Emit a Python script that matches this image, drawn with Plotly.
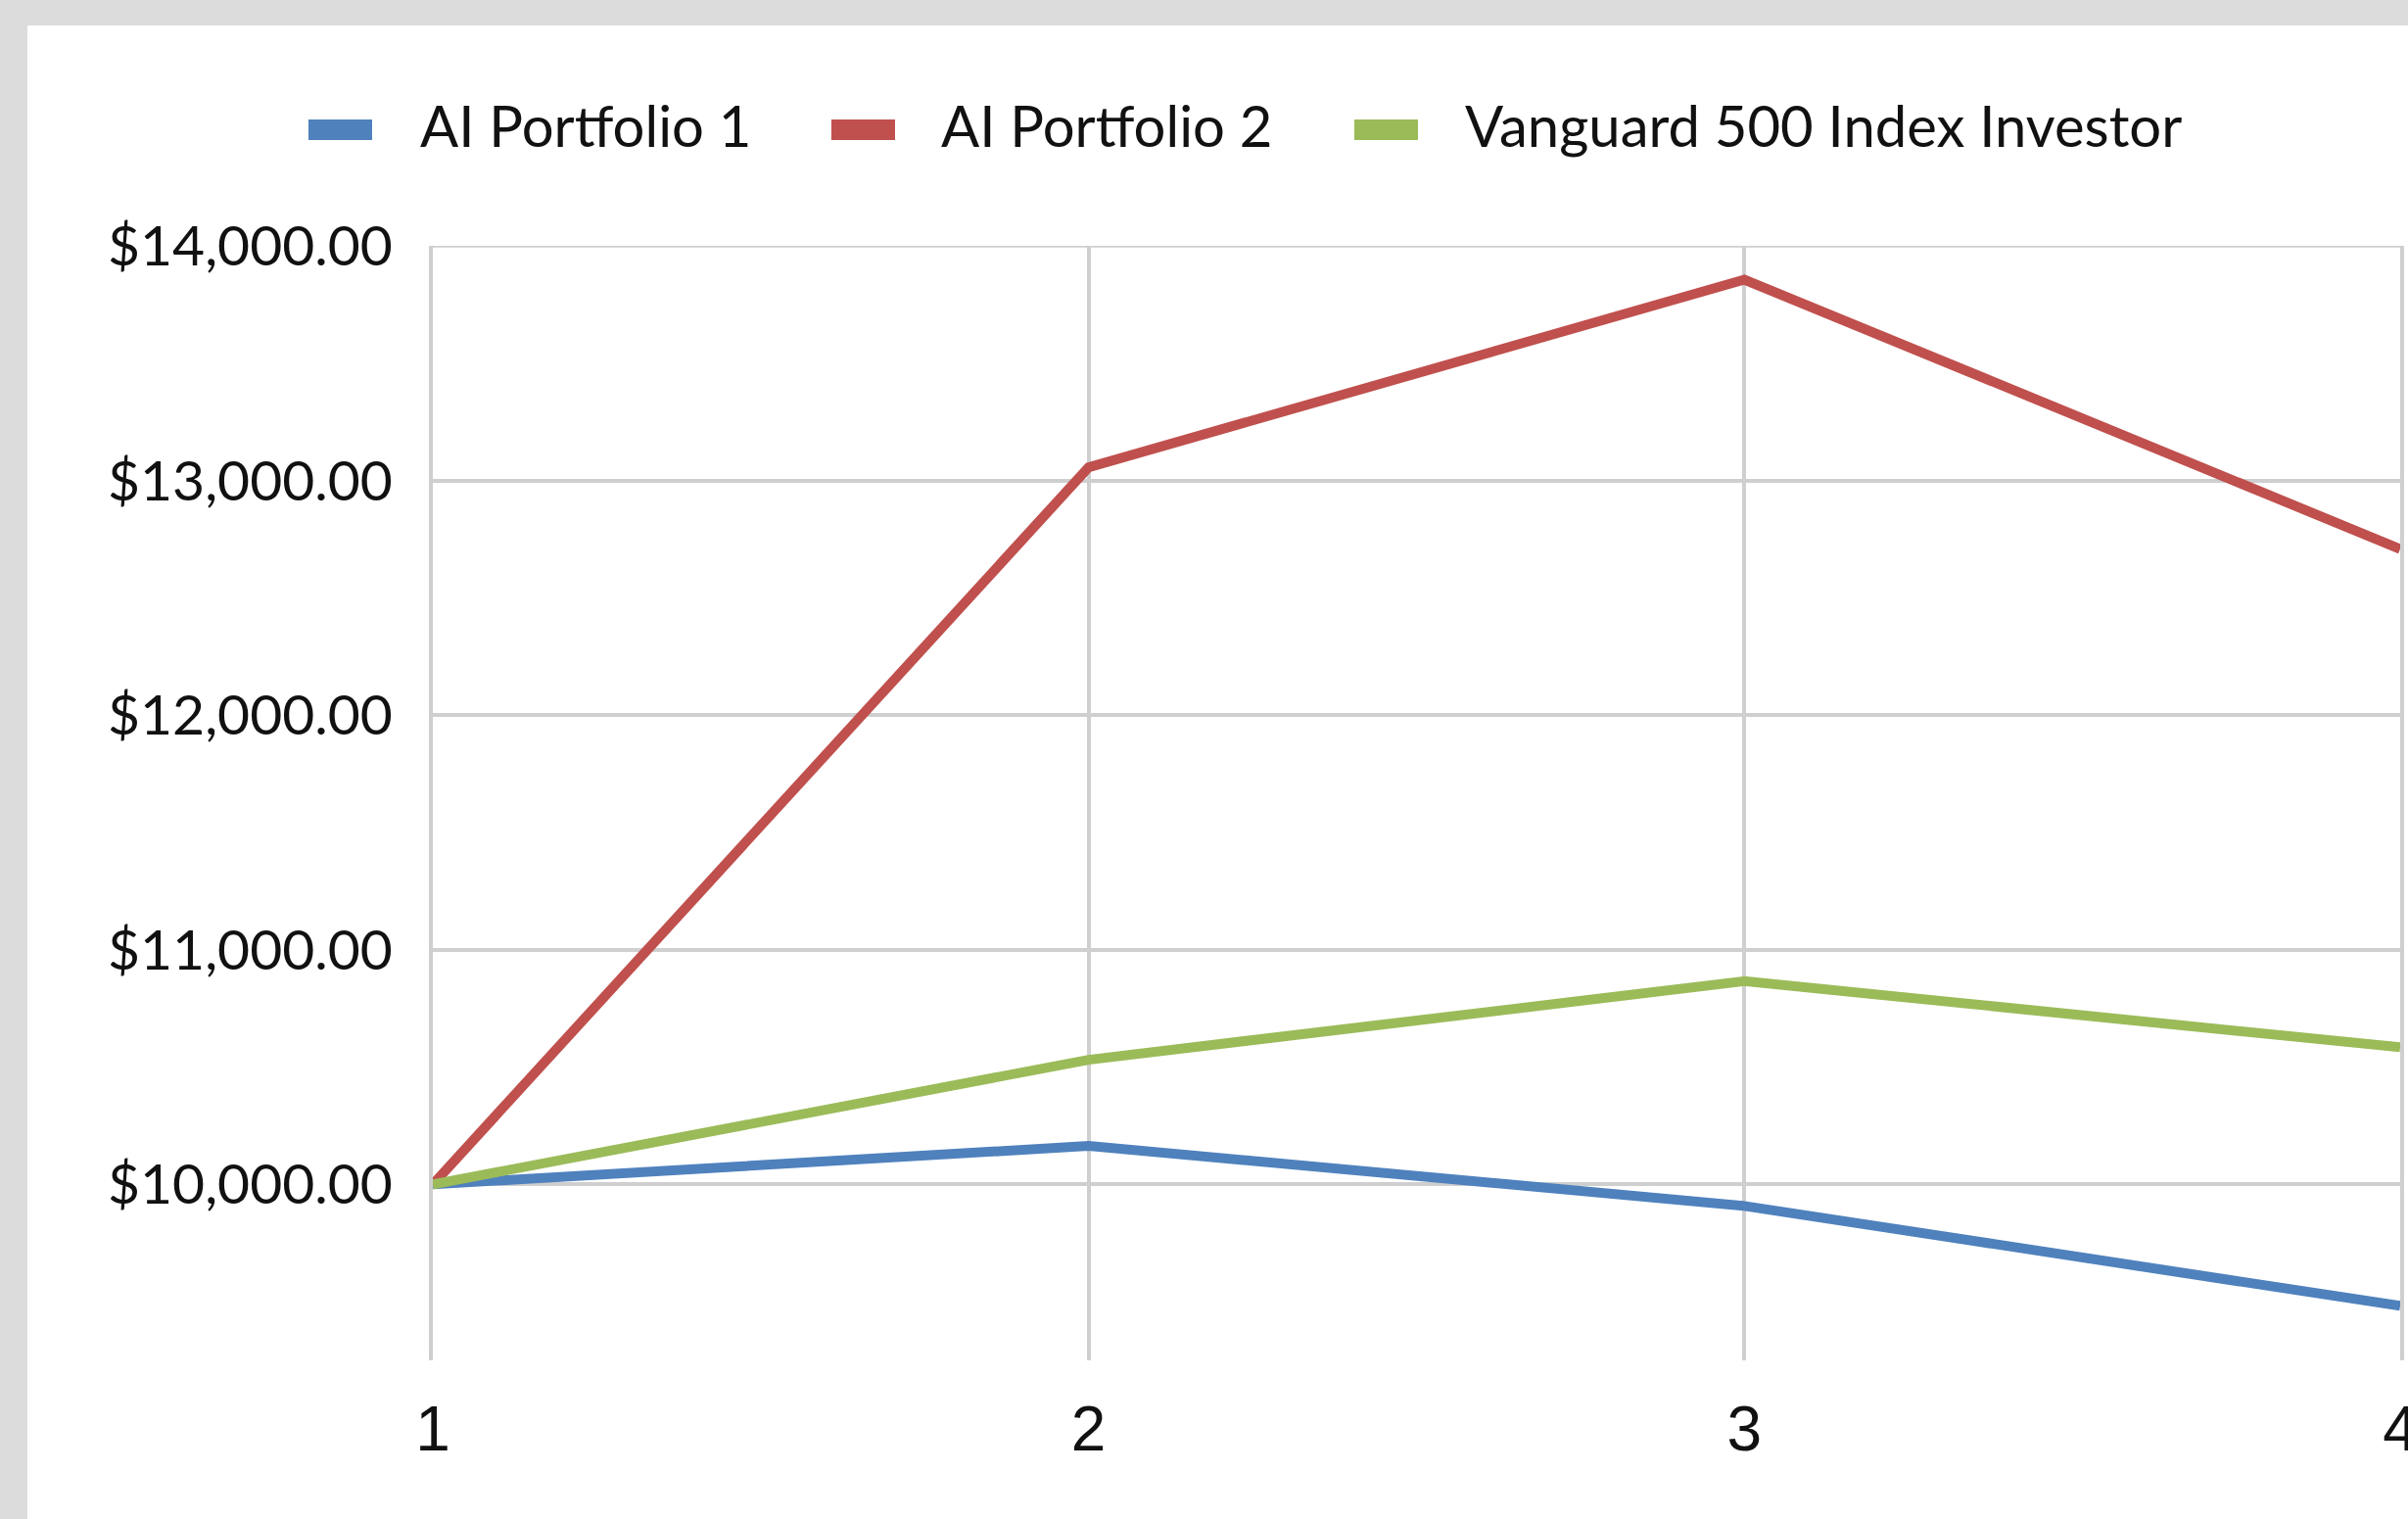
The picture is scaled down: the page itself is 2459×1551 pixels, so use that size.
import plotly.graph_objects as go

# Periods and portfolio values
periods = [1, 2, 3, 4]
ai_portfolio_1 = [10000, 10164, 9908, 9482]
ai_portfolio_2 = [10000, 13056, 13856, 12708]
vanguard_500 = [10000, 10531, 10866, 10584]

y_ticks = [10000, 11000, 12000, 13000, 14000]
y_tick_labels = ["$10,000.00", "$11,000.00", "$12,000.00", "$13,000.00", "$14,000.00"]

series_names = ["AI Portfolio 1", "AI Portfolio 2", "Vanguard 500 Index Investor"]
series_values = [ai_portfolio_1, ai_portfolio_2, vanguard_500]
series_colors = ["#4f81bd", "#c0504d", "#9bbb59"]

W, H = 2459, 1551
L, R, T, B = 442, 2451, 251, 1389
GRID = "#cfcfcf"


def px_to_paper_x(px):
    return (px - L) / (R - L)


def px_to_paper_y(py):
    return (B - py) / (B - T)


fig = go.Figure()
for name, vals, color in zip(series_names, series_values, series_colors):
    fig.add_trace(go.Scatter(
        x=periods, y=vals, mode="lines", name=name,
        line=dict(color=color, width=10), showlegend=False,
    ))

# white chart area inside the grey frame
fig.add_shape(type="rect", xref="paper", yref="paper",
              x0=px_to_paper_x(28), x1=px_to_paper_x(W + 20),
              y0=px_to_paper_y(H + 20), y1=px_to_paper_y(26),
              fillcolor="white", line=dict(width=0), layer="below")

# top border of the plot area
fig.add_shape(type="line", xref="paper", yref="y",
              x0=0, x1=1, y0=max(y_ticks), y1=max(y_ticks),
              line=dict(color=GRID, width=3.5), layer="below")

# legend: block swatch followed by the series name
swatch_x = [315, 849, 1383]
text_x = [427, 959, 1494]
legend_y = 132
for name, color, sx, tx in zip(series_names, series_colors, swatch_x, text_x):
    fig.add_shape(type="rect", xref="paper", yref="paper",
                  x0=px_to_paper_x(sx), x1=px_to_paper_x(sx + 65),
                  y0=px_to_paper_y(legend_y + 11), y1=px_to_paper_y(legend_y - 10),
                  fillcolor=color, line=dict(width=0))
    fig.add_annotation(text=name, xref="paper", yref="paper",
                       x=px_to_paper_x(tx), y=px_to_paper_y(legend_y - 4),
                       xanchor="left", yanchor="middle", showarrow=False,
                       font=dict(family="Lato", size=58, color="#111111"))

fig.update_layout(
    width=W, height=H,
    margin=dict(l=L, r=W - R, t=T, b=H - B, autoexpand=False),
    paper_bgcolor="#dcdcdc",
    plot_bgcolor="rgba(0,0,0,0)",
    font=dict(family="Lato", size=56, color="#111111"),
    showlegend=False,
)
fig.update_xaxes(
    range=[1, 4], tickvals=periods, ticktext=[str(p) for p in periods],
    showgrid=True, gridcolor=GRID, gridwidth=3.5,
    zeroline=False, showline=False, automargin=False,
    ticks="outside", ticklen=14, tickcolor="rgba(0,0,0,0)",
    ticklabeloverflow="allow",
    tickfont=dict(family="Liberation Sans", size=64, color="#111111"),
)
fig.update_yaxes(
    range=[9250, 14000], tickvals=y_ticks, ticktext=y_tick_labels,
    showgrid=True, gridcolor=GRID, gridwidth=3.5, automargin=False,
    zeroline=False, showline=True, mirror=True, linecolor=GRID, linewidth=3.5,
    ticks="outside", ticklen=26, tickcolor="rgba(0,0,0,0)",
    tickfont=dict(family="Lato", size=57, color="#111111"),
)

fig.write_html("out.html")
